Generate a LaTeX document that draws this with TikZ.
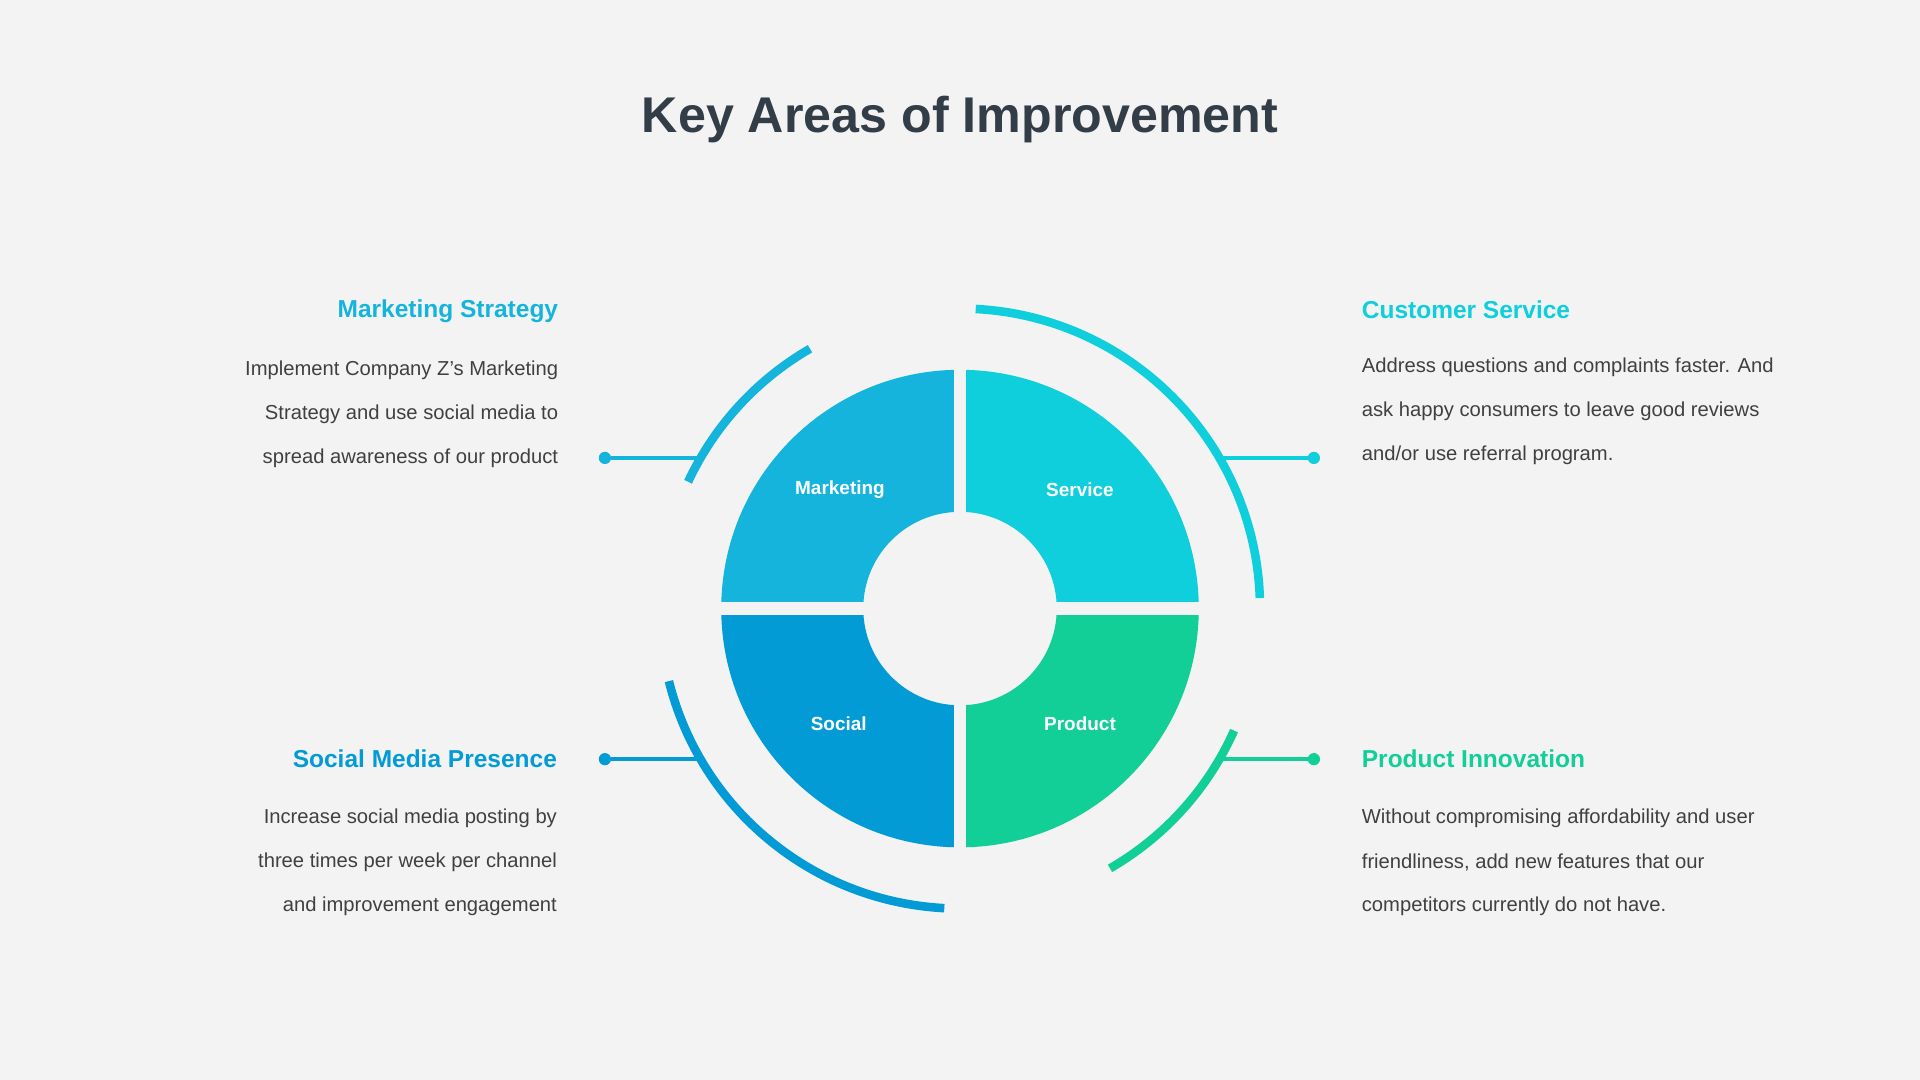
\documentclass[tikz,border=0pt]{standalone}
\usepackage{fontspec}
\setmainfont{Liberation Sans}
\usetikzlibrary{calc}
\definecolor{bg}{HTML}{F3F3F3}
\definecolor{cM}{HTML}{14B4DC}
\definecolor{cS}{HTML}{0ECFDB}
\definecolor{cSo}{HTML}{039BD6}
\definecolor{cP}{HTML}{12CF98}
\definecolor{ttl}{HTML}{333D47}
\definecolor{txt}{HTML}{404040}
\begin{document}
\begin{tikzpicture}[x=1pt,y=1pt,
  head/.style={font=\fontsize{20}{24}\selectfont\bfseries,inner sep=0},
  body/.style={font=\fontsize{16.5}{20}\selectfont,text=txt,inner sep=0},
  lab/.style={font=\fontsize{15.5}{18}\selectfont\bfseries,text=white,inner sep=0},
  arcl/.style={line width=7pt},
  conn/.style={line width=3pt},
  dot/.style={circle,fill,inner sep=0,minimum size=10pt}]
\fill[bg] (0,0) rectangle (1568,882);
\useasboundingbox (0,0) rectangle (1568,882);
\coordinate (O) at (784,385);
\node[font=\fontsize{41}{48}\selectfont\bfseries,text=ttl] (title) at (784,784) {Key Areas of Improvement};
% sectors
\foreach \a/\b/\c in {90/180/cM,0/90/cS,180/270/cSo,270/360/cP}{
  \fill[\c] ($(O)+(\a:195)$) arc[start angle=\a,end angle=\b,radius=195] -- ($(O)+(\b:79)$) arc[start angle=\b,end angle=\a,radius=79] -- cycle;}
\draw[bg,line width=10pt] ($(O)+(-200,0)$) -- ($(O)+(200,0)$);
\draw[bg,line width=10pt] ($(O)+(0,-200)$) -- ($(O)+(0,200)$);
% outer arcs
\draw[arcl,cM] ($(O)+(120:245)$) arc[start angle=120,end angle=155,radius=245];
\draw[arcl,cS] ($(O)+(87:245)$) arc[start angle=87,end angle=2,radius=245];
\draw[arcl,cSo] ($(O)+(194:245)$) arc[start angle=194,end angle=267,radius=245];
\draw[arcl,cP] ($(O)+(-24:245)$) arc[start angle=-24,end angle=-60,radius=245];
% connectors
\node[dot,cM] (dM) at (494,508) {};
\node[dot,cS] (dS) at (1073,508) {};
\node[dot,cSo] (dSo) at (494,262) {};
\node[dot,cP] (dP) at (1073,262) {};
\coordinate (aM) at (572,508);
\coordinate (aS) at (996,508);
\coordinate (aSo) at (572,262);
\coordinate (aP) at (996,262);
\draw[conn,cM] (dM) -- (aM);
\draw[conn,cS] (dS) -- (aS);
\draw[conn,cSo] (dSo) -- (aSo);
\draw[conn,cP] (dP) -- (aP);
% labels
\node[lab] (lM) at (686,482) {Marketing};
\node[lab] (lS) at (882,482) {Service};
\node[lab] (lSo) at (685,291) {Social};
\node[lab] (lP) at (882,291) {Product};
% texts left
\node[head,text=cM,anchor=east] (hM) at (456,628) {Marketing Strategy};
\node[body,anchor=east] (b1) at (456,580) {Implement Company Z’s Marketing};
\node[body,anchor=east] (b2) at (456,544) {Strategy and use social media to};
\node[body,anchor=east] (b3) at (456,508) {spread awareness of our product};
\node[head,text=cSo,anchor=east] (hSo) at (455,262) {Social Media Presence};
\node[body,anchor=east] (b4) at (455,214) {Increase social media posting by};
\node[body,anchor=east] (b5) at (455,178) {three times per week per channel};
\node[body,anchor=east] (b6) at (455,142) {and improvement engagement};
% texts right
\node[head,text=cS,anchor=west] (hS) at (1112,629) {Customer Service};
\node[body,anchor=west] (b7) at (1112,582) {Address questions and complaints faster. And};
\node[body,anchor=west] (b8) at (1112,546) {ask happy consumers to leave good reviews};
\node[body,anchor=west] (b9) at (1112,510) {and/or use referral program.};
\node[head,text=cP,anchor=west] (hP) at (1112,262) {Product Innovation};
\node[body,anchor=west] (b10) at (1112,214) {Without compromising affordability and user};
\node[body,anchor=west] (b11) at (1112,178) {friendliness, add new features that our};
\node[body,anchor=west] (b12) at (1112,142) {competitors currently do not have.};
\end{tikzpicture}
\end{document}
